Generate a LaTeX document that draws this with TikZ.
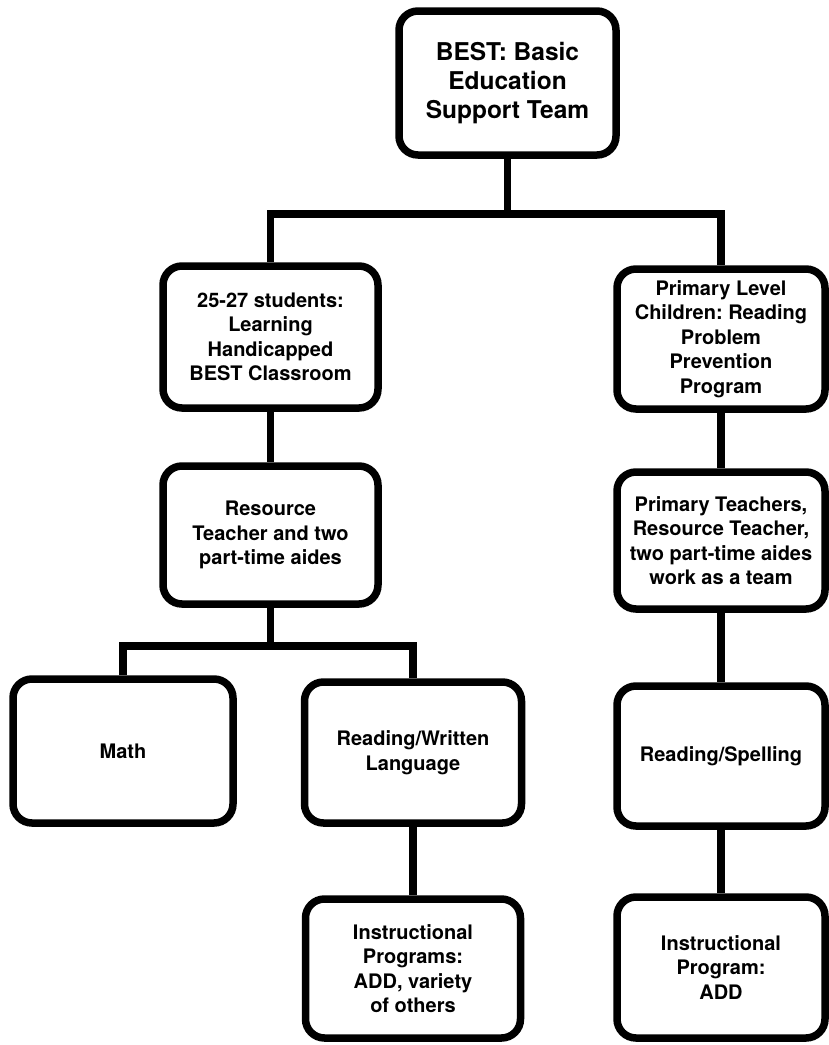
\documentclass[tikz,border=0pt]{standalone}
\usepackage{fontspec}
\setmainfont{TeX Gyre Heros}
\frenchspacing
\begin{document}
\begin{tikzpicture}[x=1pt,y=-1pt,
  box/.style={draw, line width=7.5pt, rounded corners=19pt, align=center, inner sep=0pt,
              font=\fontsize{20}{24.5}\selectfont\bfseries},
  bigbox/.style={box, font=\fontsize{24.5}{29}\selectfont\bfseries},
  conn/.style={line width=7.5pt, line join=miter}]
\useasboundingbox (0,0) rectangle (829,1045);

\node[bigbox, minimum width=217pt, minimum height=144pt] (top) at (507.5,83)
  {BEST: Basic\\Education\\Support Team};

\node[box, minimum width=215pt, minimum height=142pt] (L1) at (270.5,337)
  {25-27 students:\\Learning\\Handicapped\\BEST Classroom};
\node[box, minimum width=208pt, minimum height=140pt] (R1) at (721,339)
  {Primary Level\\Children: Reading\\Problem\\Prevention\\Program};

\node[box, minimum width=215pt, minimum height=138pt] (L2) at (270.5,535)
  {Resource\\Teacher and two\\part-time aides};
\node[box, minimum width=208pt, minimum height=137pt] (R2) at (721,540.5)
  {Primary Teachers,\\Resource Teacher,\\two part-time aides\\work as a team};

\node[box, minimum width=220pt, minimum height=144pt] (math) at (123,751) {Math};
\node[box, minimum width=217pt, minimum height=141pt] (rw) at (413,752.5)
  {Reading/Written\\Language};
\node[box, minimum width=208pt, minimum height=140pt] (rs) at (721,756)
  {Reading/Spelling};

\node[box, minimum width=215pt, minimum height=139pt] (ip) at (413,968.5)
  {Instructional\\Programs:\\ADD, variety\\of others};
\node[box, minimum width=208pt, minimum height=141pt] (ip2) at (721,967.5)
  {Instructional\\Program:\\ADD};

% connectors
\draw[conn] (top.south) -- ++(0,55) coordinate (busT);
\draw[conn] (L1.north) |- (busT) -| (R1.north);
\draw[conn] (L1.south) -- (L2.north);
\draw[conn] (R1.south) -- (R2.north);
\draw[conn] (L2.south) -- ++(0,38) coordinate (busL);
\draw[conn] (math.north) |- (busL) -| (rw.north);
\draw[conn] (R2.south) -- (rs.north);
\draw[conn] (rw.south) -- (ip.north);
\draw[conn] (rs.south) -- (ip2.north);
\end{tikzpicture}
\end{document}
